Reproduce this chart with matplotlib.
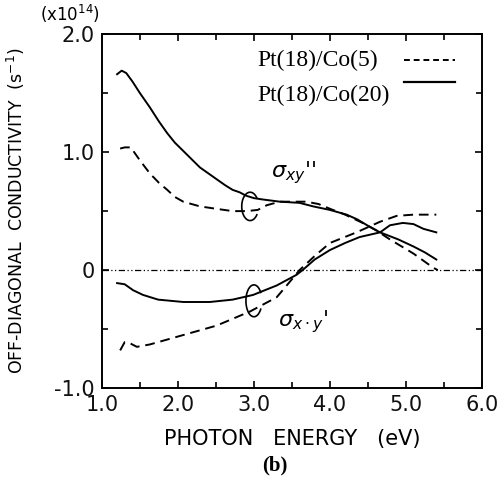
import numpy as np
import matplotlib.pyplot as plt
from matplotlib.patches import Arc

# 数据
e_im_co20 = [1.20, 1.26, 1.32, 1.40, 1.50, 1.63, 1.75, 1.86, 1.96, 2.07, 2.18, 2.29, 2.40, 2.51, 2.62, 2.72, 2.81, 2.90, 3.00, 3.10, 3.34, 3.60, 3.78, 4.00, 4.22, 4.36, 4.49, 4.66, 4.90, 5.10, 5.25, 5.40]
s_im_co20 = [1.66, 1.69, 1.67, 1.60, 1.50, 1.38, 1.26, 1.16, 1.08, 1.01, 0.94, 0.87, 0.82, 0.77, 0.72, 0.68, 0.66, 0.63, 0.61, 0.60, 0.58, 0.57, 0.54, 0.51, 0.47, 0.43, 0.38, 0.32, 0.26, 0.20, 0.15, 0.09]

e_im_co5 = [1.24, 1.30, 1.38, 1.50, 1.63, 1.75, 1.86, 1.96, 2.07, 2.18, 2.29, 2.50, 2.72, 2.90, 3.05, 3.17, 3.34, 3.69, 3.85, 4.00, 4.20, 4.43, 4.60, 4.79, 5.10, 5.36, 5.42]
s_im_co5 = [1.03, 1.04, 1.04, 0.93, 0.82, 0.74, 0.68, 0.62, 0.58, 0.56, 0.54, 0.52, 0.50, 0.50, 0.51, 0.55, 0.58, 0.58, 0.56, 0.52, 0.47, 0.40, 0.34, 0.26, 0.14, 0.02, 0.00]

e_re_co20 = [1.20, 1.30, 1.41, 1.54, 1.74, 2.07, 2.42, 2.72, 2.99, 3.30, 3.56, 3.64, 3.80, 4.00, 4.20, 4.39, 4.66, 4.79, 4.96, 5.10, 5.23, 5.40]
s_re_co20 = [-0.11, -0.12, -0.17, -0.21, -0.25, -0.27, -0.27, -0.25, -0.21, -0.13, -0.04, 0.00, 0.09, 0.17, 0.23, 0.28, 0.32, 0.38, 0.40, 0.39, 0.35, 0.32]

e_re_co5 = [1.24, 1.30, 1.37, 1.46, 1.63, 2.07, 2.51, 2.95, 3.30, 3.51, 3.60, 3.80, 4.00, 4.35, 4.66, 4.88, 5.10, 5.40]
s_re_co5 = [-0.68, -0.61, -0.62, -0.65, -0.63, -0.55, -0.47, -0.35, -0.23, -0.07, 0.00, 0.12, 0.23, 0.32, 0.41, 0.46, 0.47, 0.47]

xticks = [1.0, 2.0, 3.0, 4.0, 5.0, 6.0]
xticklabels = ["1.0", "2.0", "3.0", "4.0", "5.0", "6.0"]
yticks = [-1.0, 0.0, 1.0, 2.0]
yticklabels = ["-1.0", "0", "1.0", "2.0"]

fig = plt.figure(figsize=(5.02, 4.87), dpi=100)
ax = fig.add_axes([0.203, 0.203, 0.757, 0.727])

dash = (0, (5, 3))
ax.plot(e_im_co5, s_im_co5, color='black', lw=1.4, linestyle=dash)
ax.plot(e_im_co20, s_im_co20, color='black', lw=1.4)
ax.plot(e_re_co5, s_re_co5, color='black', lw=1.4, linestyle=dash)
ax.plot(e_re_co20, s_re_co20, color='black', lw=1.4)
# 零线
ax.axhline(0, color='black', lw=0.9, linestyle=(0, (5, 2, 1, 2, 1, 2)))

ax.set_xlim(1.0, 6.0)
ax.set_ylim(-1.0, 2.0)
ax.set_xticks(xticks)
ax.set_xticklabels(xticklabels)
ax.set_yticks(yticks)
ax.set_yticklabels(yticklabels)
ax.set_xticks(np.arange(1.5, 6.0, 1.0), minor=True)
ax.set_yticks([-0.5, 0.5, 1.5], minor=True)
ax.tick_params(which='both', direction='in', top=True, right=True, labelsize=15, width=1.2, labelcolor='#111111')
ax.tick_params(which='major', length=5, pad=5)
ax.tick_params(which='minor', length=4)
for s in ax.spines.values():
    s.set_linewidth(1.4)

# 椭圆标记
ax.add_patch(Arc((2.95, 0.54), 0.22, 0.24, theta1=35, theta2=325, color='black', lw=1.2))
ax.add_patch(Arc((3.0, -0.26), 0.21, 0.27, theta1=35, theta2=325, color='black', lw=1.2))
ax.text(3.22, 0.83, r"$\sigma_{xy}$''", fontsize=16, ha='left', va='center', family='DejaVu Serif')
ax.text(3.32, -0.44, r"$\sigma_{x\cdot y}$'", fontsize=16, ha='left', va='center', family='DejaVu Serif')

# 图例
ax.text(3.04, 1.78, "Pt(18)/Co(5)", fontsize=17, family='Liberation Serif', va='center')
ax.text(3.04, 1.48, "Pt(18)/Co(20)", fontsize=17, family='Liberation Serif', va='center')
ax.plot([4.97, 5.64], [1.78, 1.78], color='black', lw=1.4, linestyle=(0, (3, 2)))
ax.plot([4.97, 5.64], [1.59, 1.59], color='black', lw=1.6)

ax.set_xlabel("PHOTON   ENERGY   (eV)", fontsize=15, labelpad=10)
ax.set_ylabel("OFF-DIAGONAL  CONDUCTIVITY  (s$^{-1}$)", fontsize=12.5, labelpad=20)
fig.text(0.08, 0.972, r"(x10$^{14}$)", fontsize=12, va='center')
fig.text(0.548, 0.045, "(b)", fontsize=15, fontweight='bold', family='Liberation Serif', ha='center', va='center')

fig.savefig("out.png", dpi=100)
